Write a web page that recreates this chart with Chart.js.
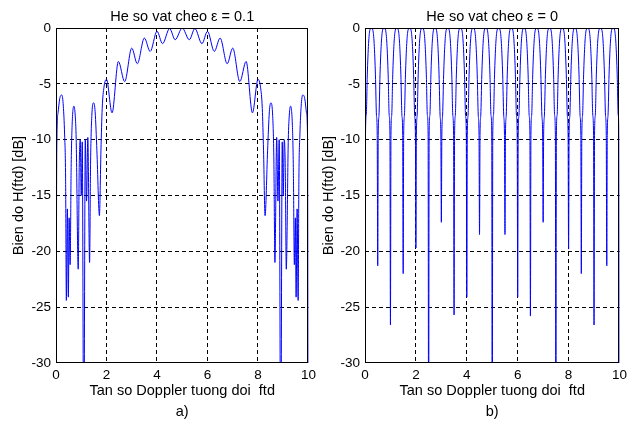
<!DOCTYPE html>
<html><head><meta charset="utf-8">
<script src="https://cdn.jsdelivr.net/npm/chart.js@4/dist/chart.umd.min.js"></script>
<style>
html,body{margin:0;padding:0;background:#fff;overflow:hidden;width:631px;height:421px;}
#a{position:absolute;left:0;top:0;}
#b{position:absolute;left:310px;top:0;}
</style></head><body>
<canvas id="a" width="320" height="421"></canvas>
<canvas id="b" width="321" height="421"></canvas>
<script>
const titleA = 'He so vat cheo ε = 0.1';
const titleB = 'He so vat cheo ε = 0';
const xTitle = 'Tan so Doppler tuong doi  ftd';
const yTitle = 'Bien do H(ftd) [dB]';
const tagA = 'a)';
const tagB = 'b)';
const xTicks = [0, 2, 4, 6, 8, 10];
const yTicks = [0, -5, -10, -15, -20, -25, -30];

// Panel a) : epsilon = 0.1
const freqA = [
  0, 0.03, 0.08, 0.15, 0.23, 0.29, 0.34, 0.38, 0.41, 0.45, 0.49, 0.52, 0.56, 0.60, 0.64, 0.71, 0.76, 0.80,
  0.88, 0.92, 0.96, 1.00, 1.04, 1.10, 1.16, 1.21, 1.26, 1.33, 1.37, 1.42, 1.49, 1.55, 1.62, 1.72, 1.78, 1.83,
  1.90, 2.00, 2.22, 2.47, 2.72, 3.00, 3.22, 3.50, 3.73, 4.00, 4.22, 4.50, 4.72, 5.00,
  5.28, 5.50, 5.78, 6.00, 6.27, 6.50, 6.78, 7.00, 7.28, 7.53, 7.78, 8.00, 8.10, 8.17, 8.22, 8.28, 8.38, 8.45,
  8.51, 8.58, 8.63, 8.67, 8.74, 8.79, 8.84, 8.90, 8.96, 9.00, 9.04, 9.08, 9.12, 9.20, 9.24, 9.29, 9.36, 9.40,
  9.44, 9.48, 9.51, 9.55, 9.59, 9.62, 9.66, 9.71, 9.77, 9.85, 9.92, 9.97, 10
];
const gainA = [
  -40, -11, -7.6, -6.3, -6.0, -7.0, -9.5, -13.5, -24.4, -16.2, -24.1, -17.0, -21.2, -12.5, -8.6, -7.0, -7.8, -10,
  -21.6, -12.5, -10.0, -15.0, -10.2, -40, -10.0, -15.5, -9.8, -21.0, -12, -7.8, -6.7, -7.5, -11, -16.8, -11, -7.2,
  -5.3, -4.6, -7.6, -3.0, -4.8, -1.8, -3.2, -0.9, -2.1, -0.3, -1.4, -0.05, -1.05, 0,
  -1.05, -0.05, -1.4, -0.3, -2.1, -0.9, -3.2, -1.8, -4.8, -3.0, -7.6, -4.6, -5.3, -7.2, -11, -16.8, -11, -7.5,
  -6.7, -7.8, -12, -21.0, -9.8, -15.5, -10.0, -40, -10.2, -15.0, -10.0, -12.5, -21.6, -10, -7.8, -7.0, -8.6, -12.5,
  -21.2, -17.0, -24.1, -16.2, -24.4, -13.5, -9.5, -7.0, -6.0, -6.3, -7.6, -11, -40
];

// Panel b) : epsilon = 0
const freqB = [
  0, 0.02, 0.05, 0.09, 0.14, 0.19, 0.25, 0.31, 0.36, 0.41, 0.45, 0.48,
  0.5, 0.52, 0.55, 0.59, 0.64, 0.69, 0.75, 0.81, 0.86, 0.91, 0.95, 0.98,
  1, 1.02, 1.05, 1.09, 1.14, 1.19, 1.25, 1.31, 1.36, 1.41, 1.45, 1.48,
  1.5, 1.52, 1.55, 1.59, 1.64, 1.69, 1.75, 1.81, 1.86, 1.91, 1.95, 1.98,
  2, 2.02, 2.05, 2.09, 2.14, 2.19, 2.25, 2.31, 2.36, 2.41, 2.45, 2.48,
  2.5, 2.52, 2.55, 2.59, 2.64, 2.69, 2.75, 2.81, 2.86, 2.91, 2.95, 2.98,
  3, 3.02, 3.05, 3.09, 3.14, 3.19, 3.25, 3.31, 3.36, 3.41, 3.45, 3.48,
  3.5, 3.52, 3.55, 3.59, 3.64, 3.69, 3.75, 3.81, 3.86, 3.91, 3.95, 3.98,
  4, 4.02, 4.05, 4.09, 4.14, 4.19, 4.25, 4.31, 4.36, 4.41, 4.45, 4.48,
  4.5, 4.52, 4.55, 4.59, 4.64, 4.69, 4.75, 4.81, 4.86, 4.91, 4.95, 4.98,
  5, 5.02, 5.05, 5.09, 5.14, 5.19, 5.25, 5.31, 5.36, 5.41, 5.45, 5.48,
  5.5, 5.52, 5.55, 5.59, 5.64, 5.69, 5.75, 5.81, 5.86, 5.91, 5.95, 5.98,
  6, 6.02, 6.05, 6.09, 6.14, 6.19, 6.25, 6.31, 6.36, 6.41, 6.45, 6.48,
  6.5, 6.52, 6.55, 6.59, 6.64, 6.69, 6.75, 6.81, 6.86, 6.91, 6.95, 6.98,
  7, 7.02, 7.05, 7.09, 7.14, 7.19, 7.25, 7.31, 7.36, 7.41, 7.45, 7.48,
  7.5, 7.52, 7.55, 7.59, 7.64, 7.69, 7.75, 7.81, 7.86, 7.91, 7.95, 7.98,
  8, 8.02, 8.05, 8.09, 8.14, 8.19, 8.25, 8.31, 8.36, 8.41, 8.45, 8.48,
  8.5, 8.52, 8.55, 8.59, 8.64, 8.69, 8.75, 8.81, 8.86, 8.91, 8.95, 8.98,
  9, 9.02, 9.05, 9.09, 9.14, 9.19, 9.25, 9.31, 9.36, 9.41, 9.45, 9.48,
  9.5, 9.52, 9.55, 9.59, 9.64, 9.69, 9.75, 9.81, 9.86, 9.91, 9.95, 9.98,
  10
];
const gainB = [
  -40, -9.5, -7.8, -4.2, -1.4, -0.2, 0, -0.2, -1.4, -4.2, -7.8, -9.5,
  -21.3, -9.5, -7.8, -4.2, -1.4, -0.2, 0, -0.2, -1.4, -4.2, -7.8, -9.5,
  -26.6, -9.5, -7.8, -4.2, -1.4, -0.2, 0, -0.2, -1.4, -4.2, -7.8, -9.5,
  -22.0, -9.5, -7.8, -4.2, -1.4, -0.2, 0, -0.2, -1.4, -4.2, -7.8, -9.5,
  -19.7, -9.5, -7.8, -4.2, -1.4, -0.2, 0, -0.2, -1.4, -4.2, -7.8, -9.5,
  -40, -9.5, -7.8, -4.2, -1.4, -0.2, 0, -0.2, -1.4, -4.2, -7.8, -9.5,
  -17.4, -9.5, -7.8, -4.2, -1.4, -0.2, 0, -0.2, -1.4, -4.2, -7.8, -9.5,
  -25.7, -9.5, -7.8, -4.2, -1.4, -0.2, 0, -0.2, -1.4, -4.2, -7.8, -9.5,
  -24.1, -9.5, -7.8, -4.2, -1.4, -0.2, 0, -0.2, -1.4, -4.2, -7.8, -9.5,
  -18.5, -9.5, -7.8, -4.2, -1.4, -0.2, 0, -0.2, -1.4, -4.2, -7.8, -9.5,
  -40, -9.5, -7.8, -4.2, -1.4, -0.2, 0, -0.2, -1.4, -4.2, -7.8, -9.5,
  -18.5, -9.5, -7.8, -4.2, -1.4, -0.2, 0, -0.2, -1.4, -4.2, -7.8, -9.5,
  -24.1, -9.5, -7.8, -4.2, -1.4, -0.2, 0, -0.2, -1.4, -4.2, -7.8, -9.5,
  -25.8, -9.5, -7.8, -4.2, -1.4, -0.2, 0, -0.2, -1.4, -4.2, -7.8, -9.5,
  -17.4, -9.5, -7.8, -4.2, -1.4, -0.2, 0, -0.2, -1.4, -4.2, -7.8, -9.5,
  -40, -9.5, -7.8, -4.2, -1.4, -0.2, 0, -0.2, -1.4, -4.2, -7.8, -9.5,
  -19.8, -9.5, -7.8, -4.2, -1.4, -0.2, 0, -0.2, -1.4, -4.2, -7.8, -9.5,
  -22.0, -9.5, -7.8, -4.2, -1.4, -0.2, 0, -0.2, -1.4, -4.2, -7.8, -9.5,
  -26.6, -9.5, -7.8, -4.2, -1.4, -0.2, 0, -0.2, -1.4, -4.2, -7.8, -9.5,
  -21.3, -9.5, -7.8, -4.2, -1.4, -0.2, 0, -0.2, -1.4, -4.2, -7.8, -9.5,
  -40
];

const FONT = "'Liberation Sans', Arial, sans-serif";

const boxPlugin = {
  id: 'axesBox',
  afterDatasetsDraw(chart) {
    const {ctx, chartArea: a} = chart;
    const l = Math.round(a.left) + 0.5, t = Math.round(a.top) + 0.5;
    const r = Math.round(a.right) - 0.5, b = Math.round(a.bottom) - 0.5;
    ctx.save();
    ctx.strokeStyle = '#000';
    ctx.lineWidth = 1;
    ctx.setLineDash([]);
    ctx.strokeRect(l, t, r - l, b - t);
    ctx.restore();
  }
};

// hide the dashed grid lines that fall on the axes box edges
const innerGrid = (lo, hi) => c => (c.tick && (c.tick.value === lo || c.tick.value === hi)) ? 'rgba(0,0,0,0)' : '#000';

function makeChart(id, freq, gain, title, tag, yWidth, targetRight, mode) {
  const pts = freq.map((x, i) => ({x: x, y: gain[i]}));
  const chart = new Chart(document.getElementById(id), {
    type: 'line',
    data: { datasets: [{
      data: pts,
      borderColor: '#0000ff',
      borderWidth: 1,
      pointRadius: 0,
      fill: false,
      cubicInterpolationMode: mode,
      tension: 0
    }]},
    options: {
      responsive: false,
      animation: false,
      devicePixelRatio: 1,
      layout: { padding: { left: 0, right: 8, top: 0, bottom: 0 } },
      plugins: {
        legend: { display: false },
        tooltip: { enabled: false },
        title: {
          display: true, text: title, color: '#000', fullSize: false,
          font: { family: FONT, size: 14.5, weight: 'normal', lineHeight: 1.2 },
          padding: { top: 8.3, bottom: 2.3 }
        }
      },
      scales: {
        x: {
          type: 'linear', min: 0, max: 10,
          afterBuildTicks: s => { s.ticks = xTicks.map(v => ({value: v})); },
          afterFit: s => { s.height = 58; },
          ticks: { color: '#000', padding: 4, font: { family: FONT, size: 13.5 },
                   callback: v => String(v), maxRotation: 0, autoSkip: false },
          grid: { color: innerGrid(0, 10), lineWidth: 1, drawTicks: false },
          border: { display: false, dash: [4, 3] },
          title: { display: true, text: [xTitle, tag], color: '#000',
                   font: { family: FONT, size: 14.5, lineHeight: 1.448 },
                   padding: { top: 0, bottom: -1.5 } }
        },
        y: {
          type: 'linear', min: -30, max: 0,
          afterBuildTicks: s => { s.ticks = yTicks.map(v => ({value: v})); },
          afterFit: s => { s.width = yWidth; },
          ticks: { color: '#000', padding: 5, font: { family: FONT, size: 13.5 },
                   callback: v => String(v), autoSkip: false },
          grid: { color: innerGrid(-30, 0), lineWidth: 1, drawTicks: false },
          border: { display: false, dash: [4, 3] },
          title: { display: true, text: yTitle, color: '#000',
                   font: { family: FONT, size: 14.5, lineHeight: 1.2 },
                   padding: { top: 10.3, bottom: 0 } }
        }
      }
    },
    plugins: [boxPlugin]
  });
  // nudge the right padding so the plot box ends where the reference's does
  const diff = chart.chartArea.right - targetRight;
  if (Math.abs(diff) > 0.3) {
    chart.options.layout.padding.right = Math.max(0, 8 + diff);
    chart.update();
  }
  return chart;
}

makeChart('a', freqA, gainA, titleA, tagA, 56, 312.5, 'monotone');
makeChart('b', freqB, gainB, titleB, tagB, 55, 312.5, 'monotone');
</script>
</body></html>
